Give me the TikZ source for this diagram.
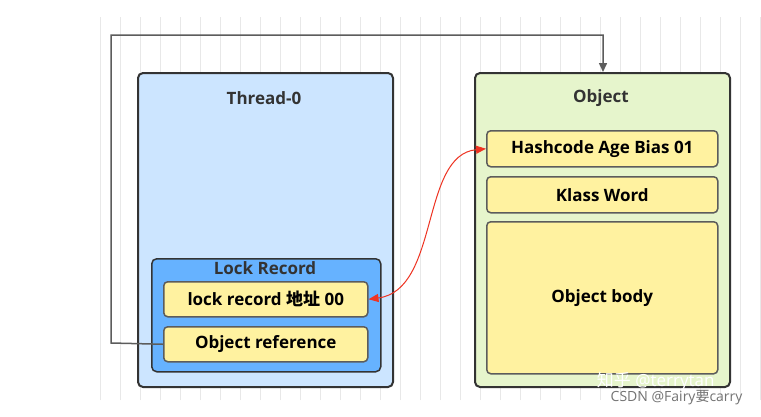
\documentclass[tikz,border=0pt]{standalone}
\usepackage{fontspec}
\setmainfont{Open Sans}
\newfontfamily\cjk{Noto Sans CJK SC}
\usetikzlibrary{arrows.meta}
\definecolor{tblue}{HTML}{CCE5FF}
\definecolor{lblue}{HTML}{66B2FF}
\definecolor{ogreen}{HTML}{E6F5CC}
\definecolor{fyel}{HTML}{FFF2A0}
\definecolor{bord}{HTML}{333333}
\definecolor{ared}{HTML}{EE3322}
\begin{document}
\begin{tikzpicture}[x=1pt,y=-1pt,
  box/.style={draw=bord,line width=2pt,rounded corners=5pt,anchor=north west,inner sep=0pt},
  fld/.style={draw=bord!80,line width=1.5pt,fill=fyel,rounded corners=4pt,anchor=north west,inner sep=0pt,font=\fontsize{17}{20}\selectfont\bfseries},
  ttl/.style={font=\fontsize{17}{20}\selectfont\bfseries,text=bord}]
\useasboundingbox (0,0) rectangle (761,416);
\fill[white] (0,0) rectangle (761,416);
\draw[black!9,line width=0.8pt] (88,17) grid[step=20] (761,400);
\node[box,fill=tblue,minimum width=255pt,minimum height=314pt] (thr) at (137,72) {};
\node[ttl] (thrt) at (264,98) {Thread-0};
\node[box,fill=ogreen,minimum width=255pt,minimum height=314pt] (obj) at (474,72) {};
\node[ttl] (objt) at (601,98) {Object};
\node[box,line width=1.5pt,fill=lblue,minimum width=229pt,minimum height=113pt] (lr) at (151,258) {};
\node[ttl] (lrt) at (265,268) {Lock Record};
\node[fld,minimum width=204pt,minimum height=35pt] (rec) at (163,281) {lock record {\cjk 地址} 00};
\node[fld,minimum width=204pt,minimum height=35pt] (oref) at (163,326) {Object reference};
\node[fld,minimum width=231pt,minimum height=36pt] (hash) at (486,130) {Hashcode Age Bias 01};
\node[fld,minimum width=231pt,minimum height=36pt] (klass) at (486,176) {Klass Word};
\node[fld,minimum width=231pt,minimum height=152pt] (body) at (486,221) {Object body};
\coordinate (top) at (603,72);
\draw[bord!80,line width=1.5pt,-{Triangle[length=9pt,width=8pt]}] (oref.west) -- (111,343) -- (111,35) -- (603,35) -- (top);
\draw[ared,line width=1pt,{Triangle[length=10pt,width=8pt]}-{Triangle[length=10pt,width=8pt]}] (rec.east) .. controls (440,290) and (420,155) .. (hash.west);
\node[text=white,font=\fontsize{17}{20}\selectfont,anchor=east] (wm1) at (718,381) {{\cjk 知乎} @terrytan};
\node[text=black!55,font=\fontsize{14}{16}\selectfont,anchor=east] (wm2) at (746,398) {CSDN @Fairy{\cjk 要}carry};
\end{tikzpicture}
\end{document}
